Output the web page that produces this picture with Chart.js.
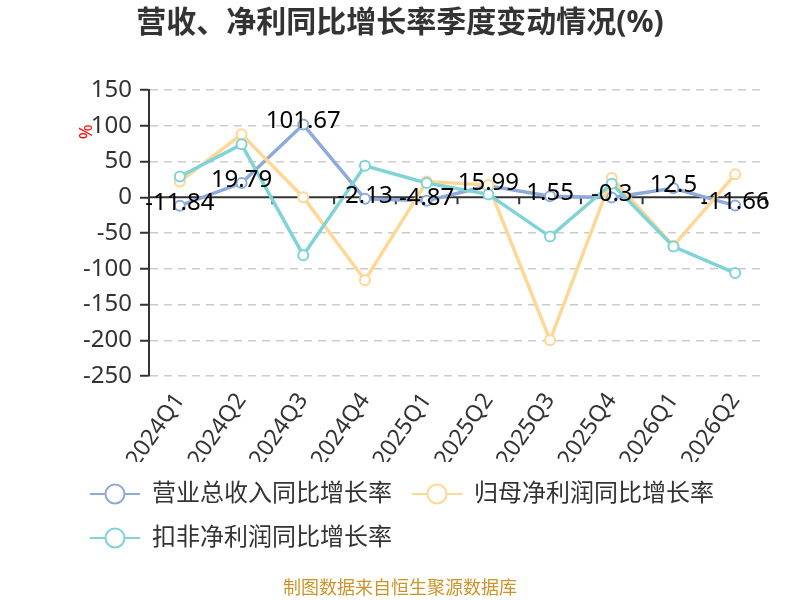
<!DOCTYPE html>
<html>
<head>
<meta charset="utf-8">
<script src="https://cdn.jsdelivr.net/npm/chart.js@4/dist/chart.umd.min.js"></script>
<style>
html,body{margin:0;padding:0;background:#fff;}
#wrap{width:800px;height:600px;}
</style>
</head>
<body>
<div id="wrap"><canvas id="c" width="800" height="600"></canvas></div>
<script>
const categories = ['2024Q1','2024Q2','2024Q3','2024Q4','2025Q1','2025Q2','2025Q3','2025Q4','2026Q1','2026Q2'];
const revenueGrowth = [-11.84, 19.79, 101.67, -2.13, -4.87, 15.99, 1.55, -0.3, 12.5, -11.66];
const netProfitGrowth = [22, 88, 0, -116, 22, 17, -200, 27, -68, 32];
const deductedProfitGrowth = [29, 74, -81, 44, 20, 4, -55, 19, -69, -106];
const revenueLabels = ['-11.84','19.79','101.67','-2.13','-4.87','15.99','1.55','-0.3','12.5','-11.66'];
const yTicks = [150, 100, 50, 0, -50, -100, -150, -200, -250];
const seriesNames = ['营业总收入同比增长率','归母净利润同比增长率','扣非净利润同比增长率'];
const seriesColors = ['#8eaadb','#ffd797','#80d3d6'];
const titleText = '营收、净利同比增长率季度变动情况(%)';
const footerText = '制图数据来自恒生聚源数据库';

const FONT = '"Noto Sans", "Noto Sans CJK SC", sans-serif';

function legendIcon(color){
  const cv = document.createElement('canvas');
  cv.width = 50; cv.height = 24;
  const g = cv.getContext('2d');
  g.strokeStyle = color; g.lineWidth = 2;
  g.beginPath(); g.moveTo(0,12); g.lineTo(50,12); g.stroke();
  g.beginPath(); g.arc(25,12,9.5,0,Math.PI*2);
  g.fillStyle = '#fff'; g.fill(); g.stroke();
  return cv;
}
const icons = seriesColors.map(legendIcon);

const extras = {
  id: 'extras',
  beforeDatasetsDraw(chart){
    const {ctx, chartArea, scales:{x, y}} = chart;
    const y0 = y.getPixelForValue(0);
    ctx.save();
    ctx.strokeStyle = '#333'; ctx.lineWidth = 2;
    ctx.beginPath(); ctx.moveTo(chartArea.left, y0); ctx.lineTo(chartArea.right, y0); ctx.stroke();
    const n = categories.length;
    const step = (x.getPixelForValue(1) - x.getPixelForValue(0));
    for (let i = 0; i <= n; i++){
      const px = x.getPixelForValue(0) - step/2 + i*step;
      ctx.beginPath(); ctx.moveTo(px, y0); ctx.lineTo(px, y0 + 7); ctx.stroke();
    }
    ctx.restore();
  },
  afterDatasetsDraw(chart){
    const {ctx, chartArea, scales:{y}} = chart;
    const meta = chart.getDatasetMeta(0);
    ctx.save();
    ctx.font = '24px ' + FONT;
    ctx.fillStyle = '#000';
    ctx.textAlign = 'center';
    ctx.textBaseline = 'middle';
    meta.data.forEach((pt, i) => {
      ctx.fillText(revenueLabels[i], pt.x, pt.y - 3);
    });
    ctx.restore();
    // y axis name
    ctx.save();
    ctx.font = '18px ' + FONT;
    ctx.fillStyle = '#ff0000';
    ctx.translate(chartArea.left - 62, y.getPixelForValue(100) + 6);
    ctx.rotate(-Math.PI/2);
    ctx.textAlign = 'center';
    ctx.textBaseline = 'middle';
    ctx.fillText('%', 0, 0);
    ctx.restore();
    // title
    ctx.save();
    ctx.font = 'bold 30px ' + FONT;
    ctx.fillStyle = '#333';
    ctx.textAlign = 'center';
    ctx.textBaseline = 'middle';
    ctx.fillText(titleText, 400, 23);
    ctx.restore();
    // footer
    ctx.save();
    ctx.font = '18px ' + FONT;
    ctx.fillStyle = '#c9952b';
    ctx.textAlign = 'center';
    ctx.textBaseline = 'middle';
    ctx.fillText(footerText, 400, 589);
    ctx.restore();
  }
};

function ds(i, data, order){
  return {
    label: seriesNames[i],
    data: data,
    borderColor: seriesColors[i],
    backgroundColor: '#fff',
    borderWidth: 3.5,
    pointRadius: 5,
    pointBorderWidth: 2,
    pointBackgroundColor: '#fff',
    pointBorderColor: seriesColors[i],
    tension: 0,
    order: order
  };
}

new Chart(document.getElementById('c'), {
  type: 'line',
  data: {
    labels: categories,
    datasets: [ds(0, revenueGrowth, 3), ds(1, netProfitGrowth, 2), ds(2, deductedProfitGrowth, 1)]
  },
  options: {
    responsive: false,
    animation: false,
    devicePixelRatio: 1,
    layout: { padding: { left: 70, right: 34, top: 90, bottom: 40 } },
    plugins: {
      title: { display: false },
      legend: {
        position: 'bottom',
        align: 'start',
        labels: {
          usePointStyle: true,
          pointStyleWidth: 50,
          padding: 20,
          color: '#333',
          font: { size: 24, family: FONT },
          sort: (a, b) => a.datasetIndex - b.datasetIndex,
          generateLabels(chart){
            return chart.data.datasets.map((d, i) => ({
              text: d.label, datasetIndex: i, pointStyle: icons[i],
              fillStyle: '#fff', strokeStyle: seriesColors[i], lineWidth: 2,
              hidden: false, fontColor: '#333'
            }));
          }
        }
      },
      tooltip: { enabled: false }
    },
    scales: {
      x: {
        offset: true,
        afterFit(s){ s.height = 86; },
        grid: { display: false, drawTicks: false },
        border: { display: false },
        ticks: {
          color: '#333',
          font: { size: 23, family: FONT },
          minRotation: 55, maxRotation: 55,
          padding: 12,
          autoSkip: false
        }
      },
      y: {
        min: -250, max: 150,
        afterFit(s){ s.width = 79; },
        afterBuildTicks(s){ s.ticks = yTicks.map(v => ({value: v})); },
        ticks: {
          color: '#333',
          font: { size: 24, family: FONT },
          padding: 8
        },
        grid: {
          color: (c) => c.tick && c.tick.value === 0 ? 'rgba(0,0,0,0)' : '#cccccc',
          lineWidth: 1.5,
          tickColor: '#333',
          tickLength: 9,
          tickWidth: 2
        },
        border: { display: true, color: '#333', width: 2, dash: [8, 6] }
      }
    }
  },
  plugins: [extras]
});
</script>
</body>
</html>
